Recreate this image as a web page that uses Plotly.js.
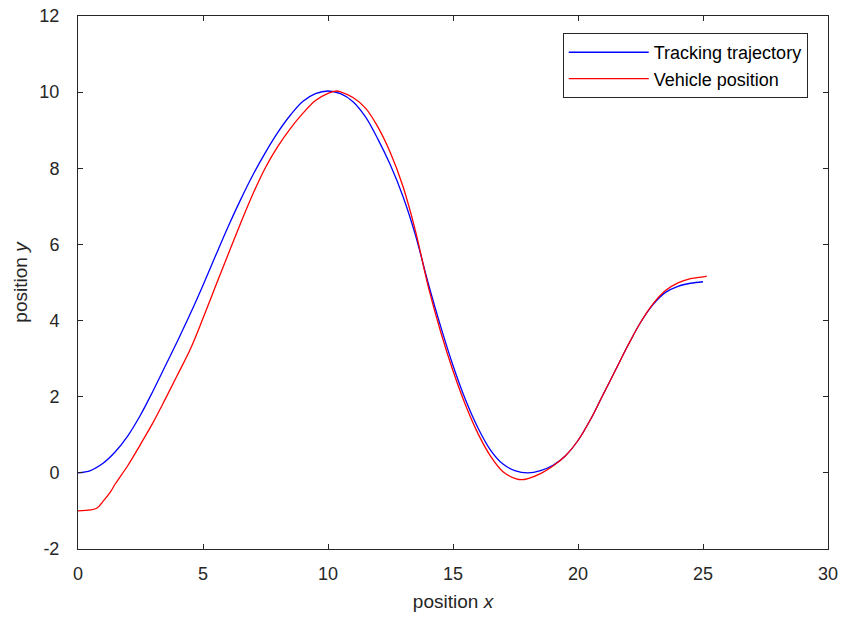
<!DOCTYPE html>
<html>
<head>
<meta charset="utf-8">
<script src="https://cdn.plot.ly/plotly-3.0.1.min.js"></script>
<style>html,body{margin:0;padding:0;background:#fff;}#chart{width:843px;height:617px;}</style>
</head>
<body>
<div id="chart"></div>
<script>
// Tracking trajectory (blue)
const trackX = [0, 0.5, 1, 1.5, 2, 2.5, 3, 3.5, 4, 4.5, 5, 5.5, 6, 6.5, 7, 7.5, 8, 8.5, 9, 9.5, 10, 10.5, 11, 11.5, 12, 12.5, 13, 13.5, 14, 14.5, 15, 15.5, 16, 16.5, 17, 17.5, 18, 18.5, 19, 19.5, 20, 20.5, 21, 21.5, 22, 22.5, 23, 23.5, 24, 24.5, 25];
const trackY = [0, 0.06, 0.25, 0.56, 0.98, 1.52, 2.15, 2.82, 3.49, 4.19, 4.93, 5.7, 6.46, 7.17, 7.83, 8.42, 8.95, 9.4, 9.76, 9.96, 10.03, 9.96, 9.75, 9.35, 8.76, 8.08, 7.26, 6.24, 5.0, 3.86, 2.82, 1.92, 1.18, 0.6, 0.23, 0.05, 0.0, 0.06, 0.2, 0.45, 0.85, 1.4, 2.05, 2.7, 3.35, 3.95, 4.42, 4.74, 4.9, 4.98, 5.02];
// Vehicle position (red)
const vehX = [0, 0.5, 0.75, 1.0, 1.3, 1.5, 2, 2.5, 3, 3.5, 4, 4.5, 5, 5.5, 6, 6.5, 7, 7.5, 8, 8.5, 9, 9.5, 10, 10.35, 10.5, 11, 11.5, 12, 12.5, 13, 13.5, 14, 14.5, 15, 15.5, 16, 16.5, 17, 17.5, 17.75, 18, 18.5, 19, 19.5, 20, 20.5, 21, 21.5, 22, 22.5, 23, 23.5, 24, 24.5, 25, 25.15];
const vehY = [-1.0, -0.97, -0.93, -0.75, -0.5, -0.28, 0.2, 0.75, 1.32, 1.95, 2.6, 3.26, 4.06, 4.9, 5.73, 6.55, 7.33, 8.02, 8.58, 9.05, 9.45, 9.78, 9.97, 10.03, 10.01, 9.86, 9.58, 9.08, 8.4, 7.52, 6.35, 4.92, 3.72, 2.68, 1.78, 1.03, 0.44, 0.03, -0.15, -0.18, -0.15, -0.02, 0.18, 0.45, 0.85, 1.4, 2.05, 2.7, 3.35, 3.95, 4.44, 4.79, 4.99, 5.1, 5.15, 5.17];

const xTicks = [0, 5, 10, 15, 20, 25, 30];
const yTicks = [-2, 0, 2, 4, 6, 8, 10, 12];

const font = "Liberation Sans, Arial, sans-serif";
const traces = [
  {x: trackX, y: trackY, type: 'scatter', mode: 'lines', name: 'Tracking trajectory',
   line: {color: '#0000ff', width: 1.3, shape: 'spline'}},
  {x: vehX, y: vehY, type: 'scatter', mode: 'lines', name: 'Vehicle position',
   line: {color: '#ff0000', width: 1.3, shape: 'spline'}}
];
const axisCommon = {
  showgrid: false, zeroline: false, showline: true, linecolor: '#262626', linewidth: 1,
  mirror: 'ticks', ticks: 'inside', ticklen: 5, tickcolor: '#262626',
  tickfont: {family: font, size: 18, color: '#262626'}
};
const layout = {
  width: 843, height: 617,
  margin: {l: 78, r: 15, t: 16, b: 68},
  paper_bgcolor: '#fff', plot_bgcolor: '#fff',
  font: {family: font, color: '#262626'},
  xaxis: Object.assign({}, axisCommon, {
    range: [0, 30], tickvals: xTicks, ticktext: xTicks.map(String), ticklabelstandoff: 8,
    title: {text: 'position <i>x</i>', font: {family: font, size: 19, color: '#262626'}, standoff: 12}
  }),
  yaxis: Object.assign({}, axisCommon, {
    range: [-2, 12], tickvals: yTicks, ticktext: yTicks.map(String), ticklabelstandoff: 14,
    title: {text: 'position <i>y</i>', font: {family: font, size: 19, color: '#262626'}, standoff: 6}
  }),
  legend: {
    x: 0.973, y: 0.968, xanchor: 'right', yanchor: 'top',
    bgcolor: '#fff', bordercolor: '#262626', borderwidth: 1,
    font: {family: font, size: 18, color: '#000'}, tracegroupgap: 0, itemwidth: 80
  },
  showlegend: true
};
Plotly.newPlot('chart', traces, layout, {displayModeBar: false, staticPlot: true});
</script>
</body>
</html>
